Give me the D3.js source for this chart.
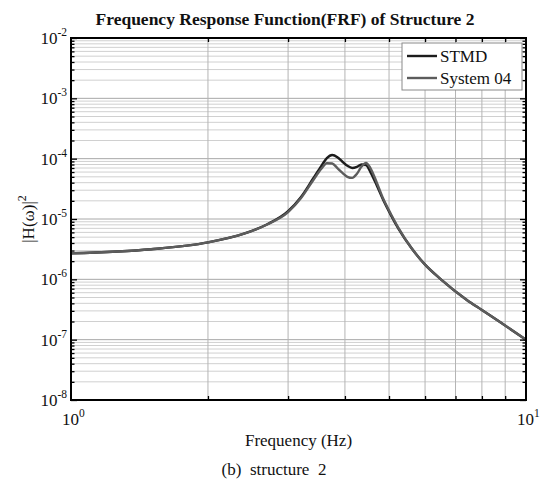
<!DOCTYPE html>
<html>
<head>
<meta charset="utf-8">
<script src="https://cdn.jsdelivr.net/npm/d3@7"></script>
<style>
  body { margin: 0; background: #fff; }
  text { font-family: "Liberation Serif", "Times New Roman", serif; fill: #111; }
</style>
</head>
<body>
<div id="chart"></div>
<script>
// frequency points (Hz)
const freq = [1, 1.5, 2, 2.4, 2.7, 3.0, 3.2, 3.4, 3.55, 3.65, 3.75, 3.85, 3.95, 4.05, 4.15,
  4.25, 4.35, 4.45, 4.55, 4.7, 4.85, 5.05, 5.25, 5.6, 6.0, 6.5, 7.4, 8.0, 8.8, 10];

// |H(w)|^2 for each series
const stmd = [2.7e-6, 3.15e-6, 4.1e-6, 5.7e-6, 8.2e-6, 1.35e-5, 2.3e-5, 4.6e-5, 7.6e-5, 1.02e-4,
  1.15e-4, 1.06e-4, 8.9e-5, 7.6e-5, 7.0e-5, 7.3e-5, 8.0e-5, 7.8e-5, 6.0e-5, 3.6e-5, 2.1e-5,
  1.15e-5, 6.8e-6, 3.3e-6, 1.75e-6, 1.0e-6, 4.6e-7, 3.1e-7, 1.92e-7, 1.0e-7];
const system04 = [2.7e-6, 3.15e-6, 4.1e-6, 5.7e-6, 8.1e-6, 1.3e-5, 2.2e-5, 4.3e-5, 6.8e-5, 8.4e-5,
  8.3e-5, 7.0e-5, 5.8e-5, 5.0e-5, 4.8e-5, 5.6e-5, 7.4e-5, 8.5e-5, 7.0e-5, 4.0e-5, 2.2e-5,
  1.2e-5, 7.0e-6, 3.3e-6, 1.75e-6, 1.0e-6, 4.6e-7, 3.1e-7, 1.92e-7, 1.0e-7];

const seriesNames = ["STMD", "System 04"];
const seriesColors = ["#1c1c1c", "#5c5c5c"];

const xMajor = [1, 10];
const xMajorExp = ["0", "1"];
const yMajor = [1e-8, 1e-7, 1e-6, 1e-5, 1e-4, 1e-3, 1e-2];
const yMajorExp = ["-8", "-7", "-6", "-5", "-4", "-3", "-2"];

const W = 548, H = 483;
const margin = { top: 38, right: 22, bottom: 83, left: 71 };
const width = W - margin.left - margin.right;
const height = H - margin.top - margin.bottom;

const svgRoot = d3.select("#chart").append("svg")
  .attr("width", W).attr("height", H);
const svg = svgRoot.append("g")
  .attr("transform", `translate(${margin.left},${margin.top})`);

const x = d3.scaleLog().domain([1, 10]).range([0, width]);
const y = d3.scaleLog().domain([1e-8, 1e-2]).range([height, 0]);

// minor values
const xMinor = d3.range(2, 10);
const yMinor = [];
yMajor.slice(0, -1).forEach(m => { for (let k = 2; k <= 9; k++) yMinor.push(m * k); });

// grid
svg.append("g").selectAll("line").data(yMinor).join("line")
  .attr("x1", 0).attr("x2", width)
  .attr("y1", d => y(d)).attr("y2", d => y(d))
  .attr("stroke", "#d0d0d0").attr("stroke-width", 1);
svg.append("g").selectAll("line").data(yMajor).join("line")
  .attr("x1", 0).attr("x2", width)
  .attr("y1", d => y(d)).attr("y2", d => y(d))
  .attr("stroke", "#a8a8a8").attr("stroke-width", 1);
svg.append("g").selectAll("line").data(xMinor).join("line")
  .attr("y1", 0).attr("y2", height)
  .attr("x1", d => x(d)).attr("x2", d => x(d))
  .attr("stroke", "#b4b4b4").attr("stroke-width", 1);

// curves
const line = d3.line()
  .x(d => x(d[0]))
  .y(d => y(d[1]))
  .curve(d3.curveMonotoneX);

[stmd, system04].forEach((vals, i) => {
  svg.append("path")
    .datum(freq.map((f, j) => [f, vals[j]]))
    .attr("fill", "none")
    .attr("stroke", seriesColors[i])
    .attr("stroke-width", 2.4)
    .attr("d", line);
});

// axes: inward ticks on all four sides
function ticks(axisGen, vals, size, tr) {
  const g = svg.append("g").attr("transform", tr)
    .call(axisGen.tickValues(vals).tickSize(size).tickFormat(""));
  g.select(".domain").remove();
  g.selectAll("line").attr("stroke", "#000").attr("stroke-width", 1.3);
}
ticks(d3.axisLeft(y), yMajor, -6, null);
ticks(d3.axisLeft(y), yMinor, -3.5, null);
ticks(d3.axisRight(y), yMajor, -6, `translate(${width},0)`);
ticks(d3.axisRight(y), yMinor, -3.5, `translate(${width},0)`);
ticks(d3.axisBottom(x), xMinor, -4, `translate(0,${height})`);
ticks(d3.axisTop(x), xMinor, -4, null);

svg.append("rect")
  .attr("width", width).attr("height", height)
  .attr("fill", "none").attr("stroke", "#000").attr("stroke-width", 2);

// tick labels
const yl = svg.append("g").selectAll("text").data(yMajor).join("text")
  .attr("x", -4).attr("y", d => y(d) + 6)
  .attr("text-anchor", "end")
  .style("font-size", "17px");
yl.append("tspan").text("10");
yl.append("tspan").text((d, i) => yMajorExp[i])
  .attr("dy", -8).style("font-size", "11.5px");

const xl = svg.append("g").selectAll("text").data(xMajor).join("text")
  .attr("x", d => x(d) - 9).attr("y", height + 25)
  .style("font-size", "17px");
xl.append("tspan").text("10");
xl.append("tspan").text((d, i) => xMajorExp[i])
  .attr("dy", -8).style("font-size", "11.5px");

// axis titles
svg.append("text")
  .attr("x", width / 2).attr("y", height + 46)
  .attr("text-anchor", "middle").style("font-size", "17px")
  .text("Frequency (Hz)");

const ylab = svg.append("text")
  .attr("transform", `translate(${-37},${height / 2}) rotate(-90)`)
  .attr("text-anchor", "middle").style("font-size", "17px");
ylab.append("tspan").text("|H(ω)|");
ylab.append("tspan").text("2").attr("dy", -8).style("font-size", "12px");

svgRoot.append("text")
  .attr("x", 285).attr("y", 25)
  .attr("text-anchor", "middle")
  .style("font-size", "17.5px").style("font-weight", "bold")
  .text("Frequency Response Function(FRF) of Structure 2");

svgRoot.append("text")
  .attr("x", 274).attr("y", 475)
  .attr("text-anchor", "middle").style("font-size", "17px")
  .style("white-space", "pre")
  .text("(b)  structure  2");

// legend
const lg = svg.append("g").attr("transform", `translate(${width - 124},5)`);
lg.append("rect").attr("width", 120).attr("height", 47)
  .attr("fill", "#fff").attr("stroke", "#8a8a8a").attr("stroke-width", 1);
seriesNames.forEach((name, i) => {
  const yy = 13 + i * 22;
  lg.append("line").attr("x1", 5).attr("x2", 35).attr("y1", yy).attr("y2", yy)
    .attr("stroke", seriesColors[i]).attr("stroke-width", 2.4);
  lg.append("text").attr("x", 38).attr("y", yy + 6)
    .style("font-size", "17px").text(name);
});
</script>
</body>
</html>
